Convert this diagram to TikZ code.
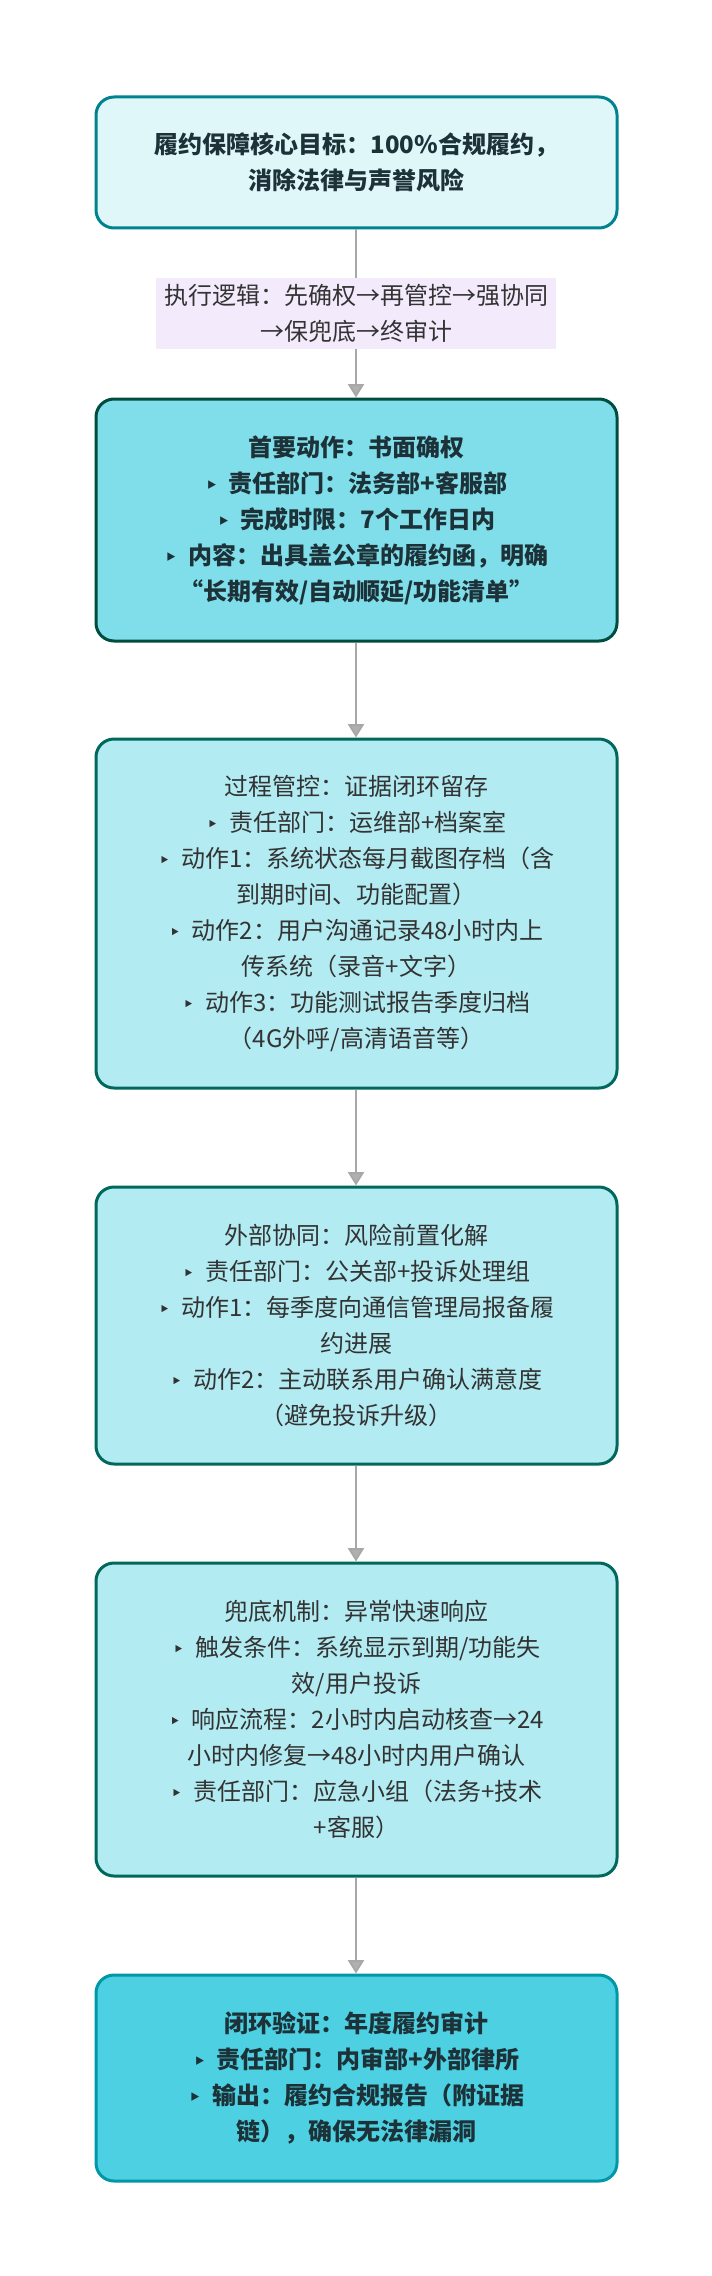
\documentclass[tikz,border=0pt]{standalone}
\usepackage{fontspec}
\setmainfont{Noto Sans CJK SC}
\newfontfamily\bulfont{DejaVu Sans}
\usetikzlibrary{arrows.meta}
\definecolor{b1fill}{HTML}{E0F7FA}
\definecolor{b1draw}{HTML}{00838F}
\definecolor{labfill}{HTML}{F3EAFB}
\definecolor{b2fill}{HTML}{80DEEA}
\definecolor{b2draw}{HTML}{004D40}
\definecolor{b3fill}{HTML}{B2EBF2}
\definecolor{b3draw}{HTML}{00695C}
\definecolor{b6fill}{HTML}{4DD0E1}
\definecolor{b6draw}{HTML}{0097A7}
\definecolor{txtn}{HTML}{333333}
\definecolor{txtb}{HTML}{1C3238}
\definecolor{linegray}{HTML}{A8A8A8}
\definecolor{tipgray}{HTML}{B0B0B0}
\newcommand\bl{{\bulfont\fontsize{15}{27}\selectfont ‣}\hspace{0.45em}}
\begin{document}
\begin{tikzpicture}[x=0.75pt,y=-0.75pt,
  box/.style={rounded corners=13.5pt, line width=2.25pt, align=center,
    minimum width=390.75pt, inner sep=0pt, font=\fontsize{18}{27}\selectfont},
  boldbox/.style={box, text=txtb, font=\fontsize{18}{27}\selectfont\bfseries},
  normbox/.style={box, text=txtn},
  lab/.style={fill=labfill, text=txtn, align=center, inner xsep=5pt, inner ysep=0pt,
    minimum width=300pt, minimum height=53.25pt, font=\fontsize{18}{27}\selectfont},
  conn/.style={draw=linegray, line width=1.5pt},
  arr/.style={conn, -{Triangle[width=12pt,length=10pt,fill=tipgray]}}
]
\useasboundingbox (0,0) rectangle (712,2276);

\node[boldbox, fill=b1fill, draw=b1draw, minimum height=98.25pt] (b1) at (356.5,162.5)
  {履约保障核心目标：100\%合规履约，\\消除法律与声誉风险};

\node[lab] (l1) at (356,313.5)
  {执行逻辑：先确权→再管控→强协同\\→保兜底→终审计};

\node[boldbox, fill=b2fill, draw=b2draw, minimum height=181.5pt] (b2) at (356.5,520)
  {首要动作：书面确权\\
   \bl 责任部门：法务部+客服部\\
   \bl 完成时限：7个工作日内\\
   \bl 内容：出具盖公章的履约函，明确\\
   “长期有效/自动顺延/功能清单”};

\node[normbox, fill=b3fill, draw=b3draw, minimum height=261.75pt] (b3) at (356.5,913.5)
  {过程管控：证据闭环留存\\
   \bl 责任部门：运维部+档案室\\
   \bl 动作1：系统状态每月截图存档（含\\
   到期时间、功能配置）\\
   \bl 动作2：用户沟通记录48小时内上\\
   传系统（录音+文字）\\
   \bl 动作3：功能测试报告季度归档\\
   （4G外呼/高清语音等）};

\node[normbox, fill=b3fill, draw=b3draw, minimum height=207.75pt] (b4) at (356.5,1325.5)
  {外部协同：风险前置化解\\
   \bl 责任部门：公关部+投诉处理组\\
   \bl 动作1：每季度向通信管理局报备履\\
   约进展\\
   \bl 动作2：主动联系用户确认满意度\\
   （避免投诉升级）};

\node[normbox, fill=b3fill, draw=b3draw, minimum height=234.75pt] (b5) at (356.5,1719.5)
  {兜底机制：异常快速响应\\
   \bl 触发条件：系统显示到期/功能失\\
   效/用户投诉\\
   \bl 响应流程：2小时内启动核查→24\\
   小时内修复→48小时内用户确认\\
   \bl 责任部门：应急小组（法务+技术\\
   +客服）};

\node[boldbox, fill=b6fill, draw=b6draw, minimum height=154.5pt] (b6) at (356.5,2078)
  {闭环验证：年度履约审计\\
   \bl 责任部门：内审部+外部律所\\
   \bl 输出：履约合规报告（附证据\\
   链），确保无法律漏洞};

\draw[conn] (b1.south -| l1.north) -- (l1.north);
\draw[arr] (l1.south) -- (l1.south |- b2.north);
\draw[arr] (b2.south -| l1.south) -- (l1.south |- b3.north);
\draw[arr] (b3.south -| l1.south) -- (l1.south |- b4.north);
\draw[arr] (b4.south -| l1.south) -- (l1.south |- b5.north);
\draw[arr] (b5.south -| l1.south) -- (l1.south |- b6.north);
\end{tikzpicture}
\end{document}
